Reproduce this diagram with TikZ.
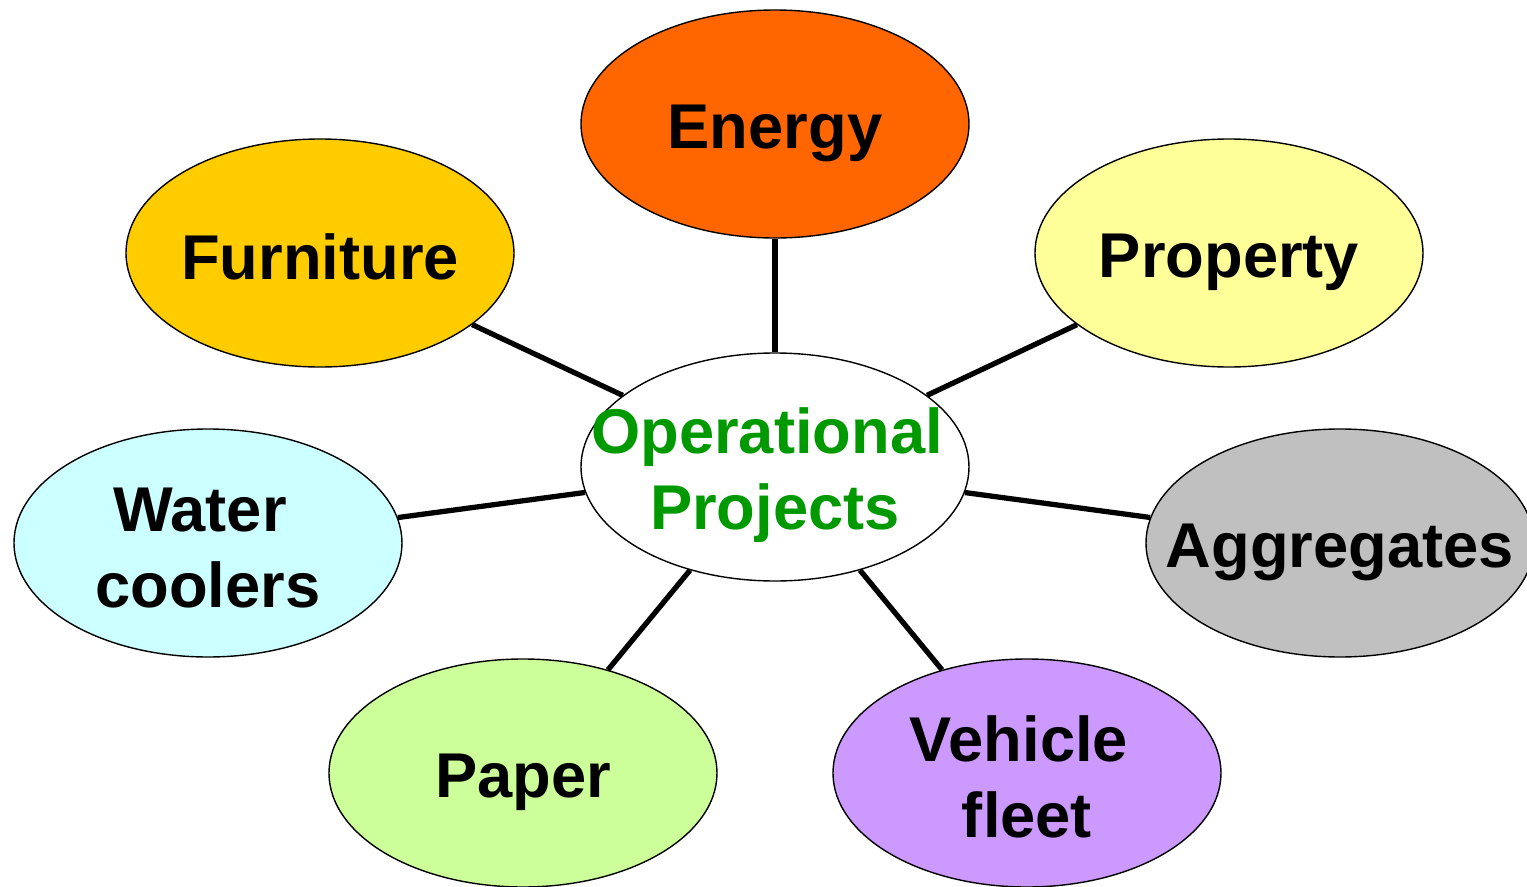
\documentclass[tikz,border=0pt]{standalone}
\usepackage{fontspec}
\setmainfont{Liberation Sans}
\usepackage{tikz}
\usetikzlibrary{shapes.geometric}

\definecolor{energy}{HTML}{FF6600}
\definecolor{furniture}{HTML}{FFCC00}
\definecolor{property}{HTML}{FFFF99}
\definecolor{water}{HTML}{CCFFFF}
\definecolor{aggregates}{HTML}{C0C0C0}
\definecolor{paper}{HTML}{CCFF99}
\definecolor{vehicle}{HTML}{CC99FF}
\definecolor{opgreen}{HTML}{009900}

\begin{document}
\begin{tikzpicture}

  \useasboundingbox (-7.75,-4.19) rectangle (7.52,4.67);

  % node styles
  \tikzstyle{Topic}=[
  shape=ellipse,draw,
  minimum width=3.88cm,minimum height=2.28cm,
  inner xsep=-1cm,inner ysep=-5mm,
  font=\fontsize{18pt}{21.6pt}\selectfont\bfseries,
  align=center,
  execute at begin node={\rule{0pt}{6.2mm}},
  execute at end node={\rule[-1mm]{0pt}{1mm}}]

  % two lines sit a bit lower
  \tikzstyle{Pair}=[execute at begin node={\rule{0pt}{13.8mm}}]

  \tikzstyle{Link}=[line width=1.5pt]

  \node[Topic,Pair,fill=white,text=opgreen] (OP) at (0,0) {Operational\hspace*{1.6mm}\\Projects};

  \draw (OP) node[Topic,fill=energy]          (EN) at +( 0.00, 3.43) {Energy};
  \draw (OP) node[Topic,fill=furniture]       (FU) at +(-4.55, 2.14) {Furniture};
  \draw (OP) node[Topic,fill=property]        (PR) at +( 4.54, 2.14) {Property};
  \draw (OP) node[Topic,Pair,fill=water]      (WC) at +(-5.67,-0.76) {Water\hspace*{1.6mm}\\coolers};
  \draw (OP) node[Topic,fill=aggregates]      (AG) at +( 5.65,-0.76) {Aggregates};
  \draw (OP) node[Topic,fill=paper]           (PA) at +(-2.52,-3.06) {Paper};
  \draw (OP) node[Topic,Pair,fill=vehicle]    (VF) at +( 2.52,-3.06) {Vehicle\hspace*{1.6mm}\\fleet};

  \draw[Link] (OP) -- (EN);
  \draw[Link] (OP) -- (FU);
  \draw[Link] (OP) -- (PR);
  \draw[Link] (OP) -- (WC);
  \draw[Link] (OP) -- (AG);
  \draw[Link] (OP) -- (PA);
  \draw[Link] (OP) -- (VF);

\end{tikzpicture}
\end{document}
